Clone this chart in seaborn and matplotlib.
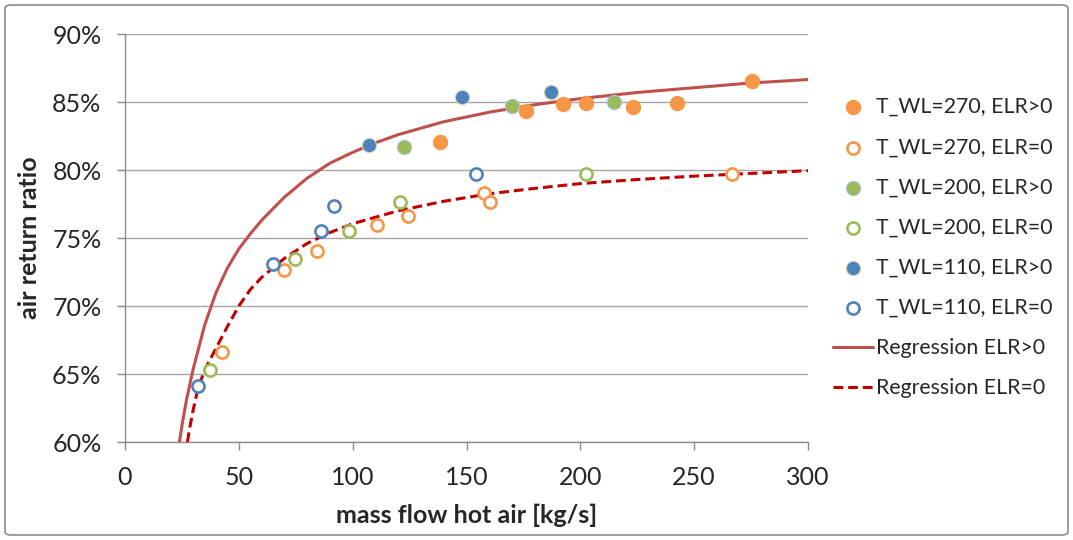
import matplotlib
matplotlib.use("Agg")
import matplotlib.pyplot as plt
import matplotlib.patches as mpatches
from matplotlib.ticker import PercentFormatter, MultipleLocator
import numpy as np
import pandas as pd
import seaborn as sns

# measured points (mass flow [kg/s], air return ratio [%])
t270_on_x = [138.5, 176.1, 192.4, 202.5, 223.2, 242.6, 275.5]
t270_on_y = [82.04, 84.32, 84.86, 84.9, 84.6, 84.9, 86.57]
t270_off_x = [42.8, 70.0, 84.2, 110.6, 124.4, 157.5, 160.2, 266.8]
t270_off_y = [66.6, 72.68, 74.08, 75.92, 76.6, 78.3, 77.63, 79.69]

t200_on_x = [122.6, 170.0, 214.7]
t200_on_y = [81.67, 84.73, 85.03]
t200_off_x = [37.3, 74.7, 98.6, 120.6, 202.3]
t200_off_y = [65.3, 73.47, 75.48, 77.64, 79.69]

t110_on_x = [107.2, 148.0, 187.3]
t110_on_y = [81.84, 85.4, 85.72]
t110_off_x = [32.2, 65.2, 86.1, 92.0, 154.3]
t110_off_y = [64.1, 73.09, 75.5, 77.34, 79.69]

# regression curves
reg_on_x = [23.9, 25, 27, 30, 35, 40, 45, 50, 55, 60, 70, 80, 90, 100,
            110, 120, 140, 160, 180, 200, 225, 250, 275, 300]
reg_on_y = [60.0, 61.2, 63.1, 65.4, 68.6, 71.0, 72.8, 74.2, 75.3, 76.3, 78.0, 79.4, 80.5, 81.3,
            82.0, 82.6, 83.55, 84.25, 84.8, 85.25, 85.7, 86.05, 86.4, 86.65]
reg_off_x = [27.4, 28.5, 30, 32, 35, 40, 45, 50, 55, 60, 70, 80, 90, 100,
             120, 140, 160, 180, 200, 225, 250, 275, 300]
reg_off_y = [60.0, 61.1, 62.4, 63.9, 65.3, 66.9, 68.5, 70.0, 71.2, 72.1, 73.5, 74.6, 75.4, 76.05,
             77.0, 77.7, 78.25, 78.65, 79.0, 79.3, 79.55, 79.75, 79.95]

ORANGE = "#F79646"
GREEN = "#9BBB59"
BLUE = "#4F81BD"

sns.set_style("white")
plt.rcParams["font.family"] = ["Lato", "DejaVu Sans"]

fig = plt.figure(figsize=(10.73, 5.40), dpi=100)
ax = fig.add_axes([125 / 1073, 1 - 442 / 540, 683 / 1073, 408 / 540])

# --- regression lines (under the markers) ----------------------------
sns.lineplot(x=reg_on_x, y=reg_on_y, ax=ax, color="#C0504D", linewidth=2.2,
             estimator=None, sort=False, label="Regression ELR>0", zorder=3)
sns.lineplot(x=reg_off_x, y=reg_off_y, ax=ax, color="#C00000", linewidth=2.2,
             estimator=None, sort=False, label="Regression ELR=0", zorder=3)
ax.lines[1].set_dashes((3.2, 1.6))

# --- measured points -------------------------------------------------
series = [
    ("T_WL=270, ELR>0", t270_on_x, t270_on_y, ORANGE, True, ORANGE),
    ("T_WL=270, ELR=0", t270_off_x, t270_off_y, ORANGE, False, ORANGE),
    ("T_WL=200, ELR>0", t200_on_x, t200_on_y, GREEN, True, "#A9C1E2"),
    ("T_WL=200, ELR=0", t200_off_x, t200_off_y, GREEN, False, GREEN),
    ("T_WL=110, ELR>0", t110_on_x, t110_on_y, BLUE, True, "#C9DCA6"),
    ("T_WL=110, ELR=0", t110_off_x, t110_off_y, BLUE, False, BLUE),
]
for label, xs, ys, col, filled, edge in series:
    if filled:
        sns.scatterplot(x=xs, y=ys, ax=ax, s=105, color=col, edgecolor=edge,
                        linewidth=0.8, label=label, zorder=4)
    else:
        sns.scatterplot(x=xs, y=ys, ax=ax, s=76, facecolor="white", edgecolor=col,
                        linewidth=1.9, label=label, zorder=4)

# --- axes styling ----------------------------------------------------
ax.set_xlim(0, 300)
ax.set_ylim(60, 90)
ax.xaxis.set_major_locator(MultipleLocator(50))
ax.yaxis.set_major_locator(MultipleLocator(5))
ax.yaxis.set_major_formatter(PercentFormatter(decimals=0))
ax.grid(axis="y", color="#A6A6A6", linewidth=1.0)
ax.grid(axis="x", visible=False)
ax.set_axisbelow(True)
for side in ["top", "right"]:
    ax.spines[side].set_visible(False)
for side in ["left", "bottom"]:
    ax.spines[side].set_color("#8C8C8C")
    ax.spines[side].set_linewidth(1.0)
ax.tick_params(axis="both", which="major", direction="out", length=6, width=1.0,
               color="#8C8C8C", labelsize=18, pad=11, left=True, bottom=True)
ax.set_xlabel("mass flow hot air [kg/s]", fontsize=18, fontweight="bold", labelpad=11)
ax.set_ylabel("air return ratio", fontsize=18, fontweight="bold", labelpad=8)

# legend: points first, then regressions
handles, labels = ax.get_legend_handles_labels()
order = [s[0] for s in series] + ["Regression ELR>0", "Regression ELR=0"]
hmap = dict(zip(labels, handles))
ax.legend([hmap[l] for l in order], order, loc="upper left",
          bbox_to_anchor=(833 / 1073, 1 - 97 / 540), bbox_transform=fig.transFigure,
          frameon=False, fontsize=15.3, handlelength=1.88, handletextpad=0.15,
          labelspacing=0.95, borderpad=0, borderaxespad=0)

# outer chart frame
frame = mpatches.FancyBboxPatch((5 / 1073, 5 / 540), 1063 / 1073, 530 / 540,
                                boxstyle="round,pad=0,rounding_size=0.006",
                                transform=fig.transFigure, fill=False,
                                edgecolor="#8C8C8C", linewidth=1.2)
fig.patches.append(frame)

fig.savefig("out.png", dpi=100)
